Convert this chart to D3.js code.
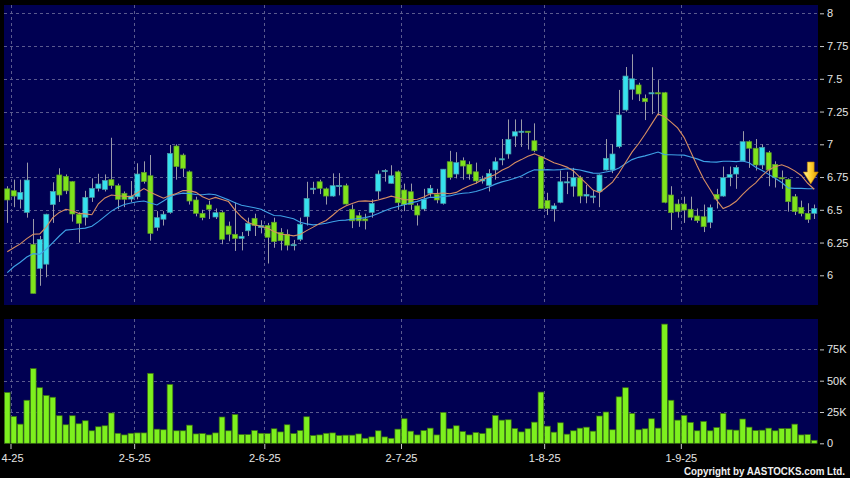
<!DOCTYPE html>
<html><head><meta charset="utf-8">
<script src="https://cdn.jsdelivr.net/npm/d3@7"></script>
<style>
html,body{margin:0;padding:0;background:#000;}
svg{display:block;}
text{font-family:"Liberation Sans",Arial,sans-serif;}
</style></head><body>
<svg id="chart" width="850" height="478"></svg>
<script>
// ---- data ----
const opens = [6.66,6.646,6.58,6.48,6.236,6.053,6.085,6.54,6.766,6.755,6.715,6.466,6.443,6.595,6.664,6.656,6.73,6.684,6.626,6.582,
6.60,6.786,6.76,6.366,6.428,6.48,6.987,6.918,6.79,6.575,6.473,6.537,6.445,6.48,6.376,6.313,6.282,6.34,6.435,6.365,
6.38,6.405,6.328,6.313,6.23,6.275,6.447,6.66,6.714,6.66,6.605,6.684,6.684,6.504,6.455,6.43,6.48,6.643,6.795,6.702,
6.79,6.651,6.638,6.53,6.506,6.626,6.618,6.549,6.867,6.773,6.875,6.847,6.79,6.72,6.687,6.804,6.885,6.926,7.063,7.096,
7.10,7.027,6.905,6.57,6.506,6.557,6.714,6.68,6.745,6.605,6.605,6.638,6.804,6.804,6.982,7.262,7.42,7.453,7.351,7.389,
7.394,7.394,6.613,6.544,6.544,6.504,6.453,6.447,6.405,6.618,6.605,6.748,6.773,6.873,7.02,6.97,6.842,6.936,6.847,6.745,
6.732,6.60,6.519,6.473,6.473];
const highs = [6.68,6.73,6.73,6.86,6.43,6.30,6.47,6.71,6.817,6.77,6.72,6.48,6.645,6.74,6.775,6.77,7.05,6.70,6.64,6.72,
6.855,6.87,6.918,6.49,6.49,6.995,7.0,6.93,6.80,6.60,6.50,6.57,6.51,6.49,6.41,6.556,6.33,6.44,6.47,6.42,
6.40,6.44,6.36,6.35,6.27,6.44,6.714,6.714,6.73,6.67,6.778,6.78,6.70,6.54,6.48,6.47,6.58,6.80,6.81,6.84,
6.80,6.70,6.70,6.55,6.66,6.69,6.66,6.81,6.95,6.94,6.90,6.87,6.86,6.76,6.81,6.90,7.04,7.19,7.19,7.19,
7.10,7.16,6.91,6.63,6.55,6.80,6.79,6.82,6.76,6.69,6.65,6.77,7.04,7.00,7.415,7.59,7.687,7.47,7.38,7.588,
7.49,7.40,6.68,6.58,6.60,6.60,6.51,6.54,6.54,6.66,6.83,6.83,6.84,7.10,7.03,7.04,7.00,6.95,6.87,6.80,
6.74,6.62,6.57,6.55,6.54];
const lows = [6.40,6.52,6.51,6.44,5.862,5.92,5.985,6.40,6.56,6.62,6.41,6.25,6.38,6.56,6.64,6.64,6.66,6.505,6.52,6.56,
6.58,6.70,6.264,6.34,6.38,6.47,6.73,6.75,6.54,6.45,6.42,6.43,6.43,6.237,6.26,6.186,6.19,6.30,6.30,6.32,
6.09,6.21,6.19,6.19,6.19,6.26,6.38,6.62,6.62,6.54,6.60,6.61,6.54,6.36,6.37,6.35,6.44,6.58,6.715,6.70,
6.50,6.49,6.50,6.38,6.49,6.60,6.55,6.54,6.73,6.74,6.73,6.73,6.70,6.70,6.64,6.73,6.84,6.89,6.98,6.98,
6.96,6.94,6.51,6.46,6.41,6.55,6.62,6.60,6.55,6.55,6.55,6.52,6.80,6.78,6.97,7.25,7.34,7.33,7.185,7.23,
7.22,6.55,6.346,6.44,6.40,6.42,6.40,6.33,6.36,6.51,6.60,6.68,6.66,6.87,6.82,6.80,6.81,6.68,6.67,6.66,
6.486,6.46,6.45,6.40,6.43];
const closes = [6.575,6.605,6.633,6.727,5.862,6.274,6.466,6.64,6.613,6.645,6.468,6.397,6.595,6.664,6.697,6.724,6.685,6.58,6.58,6.605,
6.773,6.716,6.32,6.44,6.466,6.93,6.83,6.817,6.567,6.473,6.44,6.504,6.478,6.275,6.313,6.282,6.298,6.397,6.38,6.38,
6.29,6.257,6.264,6.23,6.235,6.39,6.587,6.665,6.664,6.605,6.684,6.686,6.544,6.416,6.416,6.416,6.549,6.773,6.80,6.76,
6.554,6.54,6.54,6.46,6.58,6.664,6.575,6.81,6.747,6.86,6.834,6.773,6.72,6.735,6.778,6.867,6.89,7.038,7.096,7.10,
7.095,6.951,6.51,6.51,6.53,6.714,6.714,6.745,6.605,6.618,6.605,6.766,6.893,6.926,7.224,7.521,7.50,7.384,7.325,7.394,
7.389,6.557,6.478,6.485,6.498,6.443,6.417,6.371,6.516,6.582,6.745,6.77,6.824,7.02,6.97,6.842,6.977,6.804,6.745,6.74,
6.562,6.486,6.473,6.427,6.511];
// volume in thousands of shares
const volumesK = [40.6,21.5,15.3,34.4,59.7,44.4,38.2,36.8,22,14.8,22,15.6,18,10,13.2,14,24.2,8,6.7,8,
8.3,8.3,55.9,11.3,10.8,47,10,10,14.5,7.5,7.8,6.7,8.3,21,10,23,7,7,10.2,8,
7.8,11.6,9.1,14.8,7.8,10.2,21.2,6.2,6.7,8,8.3,6.2,6.5,6.5,7.5,4,5.1,10,5.1,4,
11.3,19.6,9.7,6.7,10.2,12.1,6.7,24.7,11.6,14,9.4,6.7,8.6,7.8,12.1,22.3,18.5,18.8,11.8,9.1,
11.6,16.9,40.9,13.7,8.9,16.4,7.3,10,12.1,12.9,9.7,21.8,25,10.8,37.1,44.4,23.9,10.8,11.6,19.6,
12.1,95.2,34.4,18.5,22.3,16.7,10,17.5,10,12.6,23.9,10.8,10.5,19.4,12.9,10.2,10.5,12.1,10,11.8,
11.8,15.3,6.7,7,2.4];
// moving-average values before a full window is available
const ma10Lead = [6.18,6.21,6.24,6.28,6.313,6.316,6.37,6.44,6.48];
const ma20Lead = [6.02,6.065,6.10,6.14,6.165,6.16,6.20,6.25,6.30,6.345,6.35,6.355,6.36,6.375,6.41,6.45,6.49,6.52,6.54];
const dateTickIndex = [0,19,39,60,82,103];
// the first label is shown cut by the left edge in the reference; only its visible part is kept
const dateTickLabels = ["4-25","2-5-25","2-6-25","2-7-25","1-8-25","1-9-25"];
const priceTicks = [6,6.25,6.5,6.75,7,7.25,7.5,7.75,8];
const volumeTicks = [0,25000,50000,75000];
const copyright = "Copyright by AASTOCKS.com Ltd.";

// ---- layout ----
const N = closes.length;
const svg = d3.select("#chart");
svg.append("rect").attr("width",850).attr("height",478).attr("fill","#000");
const main = {x0:4, x1:818, y0:5, y1:305};
const vol = {x0:4, x1:818, y0:319, y1:443.3};
const navy = "#000052", gridCol = "#5a5a8e";
const upCol = "#36e1ee", downCol = "#7fe31c";

const x = d3.scaleBand().domain(d3.range(N)).range([4,817.5]).paddingInner(0.22).paddingOuter(0.11);
const step = x.step(), bw = x.bandwidth();
const cx = i => x(i) + bw/2;
const tickX = i => cx(i) + step/2;
const yP = d3.scaleLinear().domain([6,8]).range([275.3,13.3]);
const yV = d3.scaleLinear().domain([0,100000]).range([443.3,318.1]);

// panels
svg.append("rect").attr("x",main.x0).attr("y",main.y0).attr("width",main.x1-main.x0).attr("height",main.y1-main.y0).attr("fill",navy);
svg.append("rect").attr("x",vol.x0).attr("y",vol.y0).attr("width",vol.x1-vol.x0).attr("height",vol.y1-vol.y0).attr("fill",navy);

// grids
const g = svg.append("g").attr("stroke",gridCol).attr("stroke-width",1).attr("stroke-dasharray","3,3").attr("shape-rendering","crispEdges");
g.selectAll(".hp").data(priceTicks).join("line")
  .attr("x1",main.x0).attr("x2",main.x1).attr("y1",d=>Math.round(yP(d))+0.5).attr("y2",d=>Math.round(yP(d))+0.5);
g.selectAll(".hv").data(volumeTicks.filter(d=>d>0)).join("line").attr("class","hv")
  .attr("x1",vol.x0).attr("x2",vol.x1).attr("y1",d=>Math.round(yV(d))+0.5).attr("y2",d=>Math.round(yV(d))+0.5);
g.selectAll(".vm").data(dateTickIndex).join("line").attr("class","vm")
  .attr("x1",d=>Math.round(tickX(d))+0.5).attr("x2",d=>Math.round(tickX(d))+0.5).attr("y1",main.y0).attr("y2",main.y1);
g.selectAll(".vv").data(dateTickIndex).join("line").attr("class","vv")
  .attr("x1",d=>Math.round(tickX(d))+0.5).attr("x2",d=>Math.round(tickX(d))+0.5).attr("y1",vol.y0).attr("y2",vol.y1);

// moving averages
const sma = (n, lead) => closes.map((c,i) => i < n-1 ? lead[i] : d3.mean(closes.slice(i-n+1,i+1)));
const ma10 = sma(10, ma10Lead), ma20 = sma(20, ma20Lead);
const line = d3.line().x((d,i)=>cx(i)).y(d=>yP(d));

// candles
const cg = svg.append("g");
cg.selectAll("line.w").data(d3.range(N)).join("line").attr("class","w")
  .attr("x1",i=>Math.round(cx(i))+0.5).attr("x2",i=>Math.round(cx(i))+0.5)
  .attr("y1",i=>yP(highs[i])).attr("y2",i=>yP(lows[i]))
  .attr("stroke","#9a9aa8").attr("stroke-width",1);
cg.selectAll("rect.b").data(d3.range(N)).join("rect").attr("class","b")
  .attr("x",i=>x(i)).attr("width",bw)
  .attr("y",i=>yP(Math.max(opens[i],closes[i])))
  .attr("height",i=>Math.max(1.2,Math.abs(yP(opens[i])-yP(closes[i]))))
  .attr("fill",i=>closes[i]>=opens[i]?upCol:downCol)
  .attr("stroke",i=>closes[i]>=opens[i]?"#4a9aa6":"#5c9a2a").attr("stroke-width",0.7);

svg.append("path").datum(ma20).attr("d",line).attr("fill","none").attr("stroke","#3fa2e6").attr("stroke-width",1.1);
svg.append("path").datum(ma10).attr("d",line).attr("fill","none").attr("stroke","#d88e62").attr("stroke-width",1.1);

// volume bars
svg.append("g").selectAll("rect").data(volumesK).join("rect")
  .attr("x",(d,i)=>x(i)-0.3).attr("width",bw+0.6)
  .attr("y",d=>yV(d*1000)).attr("height",d=>yV(0)-yV(d*1000))
  .attr("fill","#7df01e").attr("stroke","#3a6e12").attr("stroke-width",0.7);

// arrow marker (last bar signal)
const defs = svg.append("defs");
const grad = defs.append("linearGradient").attr("id","arrowGrad").attr("x1","0").attr("x2","1").attr("y1","0").attr("y2","0");
grad.append("stop").attr("offset","0").attr("stop-color","#fff2a0");
grad.append("stop").attr("offset","0.5").attr("stop-color","#ffd030");
grad.append("stop").attr("offset","1").attr("stop-color","#e09a00");
const ax = cx(N-1) - 3.5, ay = 162;
svg.append("path")
  .attr("d",`M${ax-3.4},${ay} H${ax+3.4} V${ay+10} H${ax+7.5} L${ax},${ay+22} L${ax-7.5},${ay+10} H${ax-3.4} Z`)
  .attr("fill","url(#arrowGrad)").attr("stroke","#c08000").attr("stroke-width",0.6);

// axes
const axisStyle = sel => {
  sel.select(".domain").remove();
  sel.selectAll(".tick line").attr("stroke","#c8c8c8");
  sel.selectAll(".tick text").attr("fill","#e6e6e6").attr("font-size","11px").attr("font-family","'Liberation Sans',Arial,sans-serif");
};
svg.append("g").attr("transform","translate(820,0)")
  .call(d3.axisRight(yP).tickValues(priceTicks).tickSize(4).tickPadding(3).tickFormat(d=>String(d)))
  .call(axisStyle);
svg.append("g").attr("transform","translate(820,0)")
  .call(d3.axisRight(yV).tickValues(volumeTicks).tickSize(4).tickPadding(3).tickFormat(d=>d===0?"0":(d/1000)+"K"))
  .call(axisStyle);
const xTickScale = d3.scaleLinear().domain([0,N-1]).range([cx(0),cx(N-1)]);
const xAxisG = svg.append("g").attr("transform","translate(0,444)")
  .call(d3.axisBottom(xTickScale).tickValues(dateTickIndex.map(i=>i+0.5)).tickSize(5).tickPadding(5)
    .tickFormat((d,k)=>dateTickLabels[k]))
  .call(axisStyle);
// first (edge-cut) label: keep it inside the picture, aligned to the left edge
xAxisG.selectAll(".tick").filter((d,k)=>k===0).select("text")
  .attr("text-anchor","start").attr("x",1 - tickX(0));

svg.append("text").attr("x",845).attr("y",475).attr("text-anchor","end")
  .attr("fill","#f0f0f0").attr("font-size","10px").attr("font-weight","bold")
  .attr("textLength",161).attr("lengthAdjust","spacingAndGlyphs").text(copyright);
</script>
</body></html>
